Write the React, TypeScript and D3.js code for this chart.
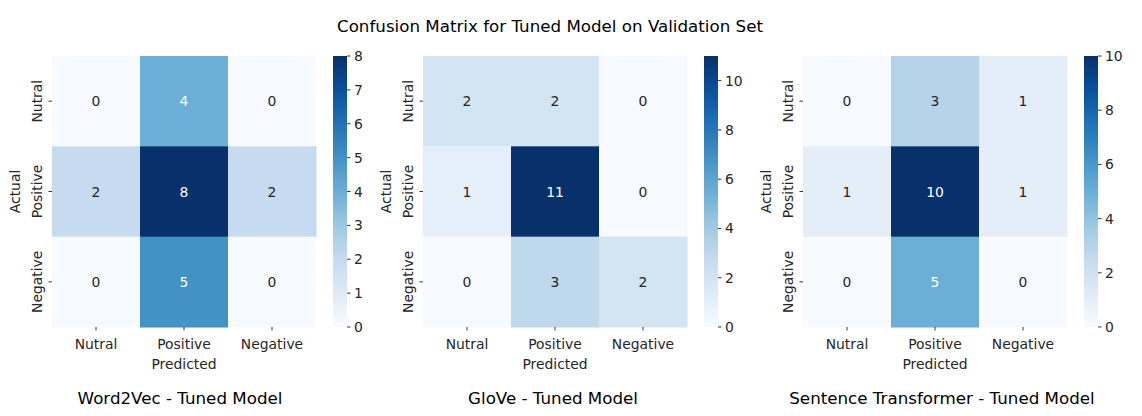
import * as d3 from "d3";

const CLASSES = ["Nutral", "Positive", "Negative"];

const WORD2VEC = [
  [0, 4, 0],
  [2, 8, 2],
  [0, 5, 0],
];
const GLOVE = [
  [2, 2, 0],
  [1, 11, 0],
  [0, 3, 2],
];
const SENTENCE = [
  [0, 3, 1],
  [1, 10, 1],
  [0, 5, 0],
];

const PANEL_TITLES = ["Word2Vec - Tuned Model", "GloVe - Tuned Model", "Sentence Transformer - Tuned Model"];
const CB_TICKS = [
  [0, 1, 2, 3, 4, 5, 6, 7, 8],
  [0, 2, 4, 6, 8, 10],
  [0, 2, 4, 6, 8, 10],
];

// matplotlib "Blues" (linear segments between the 9 brewer colours)
const BLUES = ["#f7fbff", "#deebf7", "#c6dbef", "#9ecae1", "#6baed6", "#4292c6", "#2171b5", "#08519c", "#08306b"];

const W = 1142;
const H = 416;
const FONT = "DejaVu Sans, sans-serif";
const TICK_FS = 13.9;
const TITLE_FS = 16.7;

const panelLeft = [52, 423, 803];
const titleCenter = [180, 553, 942];
const hmW = 264;
const top = 56;
const bottom = 327;
const cbGap = 17;
const cbW = 14;

function luminance(c: string) {
  const rgb = d3.rgb(c);
  const f = (v: number) => {
    v = v / 255;
    return v <= 0.03928 ? v / 12.92 : Math.pow((v + 0.055) / 1.055, 2.4);
  };
  return 0.2126 * f(rgb.r) + 0.7152 * f(rgb.g) + 0.0722 * f(rgb.b);
}

function Panel({ idx, matrix }: { idx: number; matrix: number[][] }) {
  const x0 = panelLeft[idx];
  const flat = matrix.flat();
  const vmin = d3.min(flat) as number;
  const vmax = d3.max(flat) as number;

  const x = d3.scaleBand().domain(CLASSES).range([x0, x0 + hmW]);
  const y = d3.scaleBand().domain(CLASSES).range([top, bottom]);
  const color = d3
    .scaleLinear<string>()
    .domain(BLUES.map((_, i) => vmin + ((vmax - vmin) * i) / (BLUES.length - 1)))
    .range(BLUES)
    .interpolate(d3.interpolateRgb);

  const cbX = x0 + hmW + cbGap;
  const cbY = d3.scaleLinear().domain([vmin, vmax]).range([bottom, top]);
  const gradId = `cb-grad-${idx}`;
  const stops = d3.range(0, 1.0001, 0.05);

  return (
    <g>
      {matrix.map((row, r) =>
        row.map((v, c) => {
          const fill = color(v);
          const txt = luminance(fill) > 0.408 ? "#262626" : "#ffffff";
          return (
            <g key={`${r}-${c}`}>
              <rect
                x={x(CLASSES[c])}
                y={y(CLASSES[r])}
                width={x.bandwidth() + 0.5}
                height={y.bandwidth() + 0.5}
                fill={fill}
              />
              <text
                x={(x(CLASSES[c]) as number) + x.bandwidth() / 2}
                y={(y(CLASSES[r]) as number) + y.bandwidth() / 2}
                textAnchor="middle"
                dominantBaseline="central"
                fontSize={TICK_FS}
                fill={txt}
              >
                {v}
              </text>
            </g>
          );
        })
      )}

      {/* x axis */}
      {CLASSES.map((c) => {
        const cx = (x(c) as number) + x.bandwidth() / 2;
        return (
          <g key={`xt-${c}`}>
            <line x1={cx} x2={cx} y1={bottom} y2={bottom + 3.5} stroke="#000" strokeWidth={0.8} />
            <text x={cx} y={bottom + 17} textAnchor="middle" dominantBaseline="central" fontSize={TICK_FS} fill="#262626">
              {c}
            </text>
          </g>
        );
      })}
      <text x={x0 + hmW / 2} y={364} textAnchor="middle" dominantBaseline="central" fontSize={TICK_FS} fill="#262626">
        Predicted
      </text>

      {/* y axis */}
      {CLASSES.map((c) => {
        const cy = (y(c) as number) + y.bandwidth() / 2;
        return (
          <g key={`yt-${c}`}>
            <line x1={x0 - 3.5} x2={x0} y1={cy} y2={cy} stroke="#000" strokeWidth={0.8} />
            <text
              transform={`translate(${x0 - 15},${cy}) rotate(-90)`}
              textAnchor="middle"
              dominantBaseline="central"
              fontSize={TICK_FS}
              fill="#262626"
            >
              {c}
            </text>
          </g>
        );
      })}
      <text
        transform={`translate(${x0 - 37},${(top + bottom) / 2}) rotate(-90)`}
        textAnchor="middle"
        dominantBaseline="central"
        fontSize={TICK_FS}
        fill="#262626"
      >
        Actual
      </text>

      {/* colorbar */}
      <defs>
        <linearGradient id={gradId} x1="0" y1="1" x2="0" y2="0">
          {stops.map((t) => (
            <stop key={t} offset={t} stopColor={color(vmin + t * (vmax - vmin))} />
          ))}
        </linearGradient>
      </defs>
      <rect x={cbX} y={top} width={cbW} height={bottom - top} fill={`url(#${gradId})`} />
      {CB_TICKS[idx].map((t) => (
        <g key={`cb-${t}`}>
          <line x1={cbX + cbW} x2={cbX + cbW + 3.5} y1={cbY(t)} y2={cbY(t)} stroke="#000" strokeWidth={0.8} />
          <text x={cbX + cbW + 7} y={cbY(t)} dominantBaseline="central" fontSize={TICK_FS} fill="#262626">
            {t}
          </text>
        </g>
      ))}

      <text x={titleCenter[idx]} y={398} textAnchor="middle" dominantBaseline="central" fontSize={TITLE_FS} fill="#000">
        {PANEL_TITLES[idx]}
      </text>
    </g>
  );
}

export default function App() {
  return (
    <div style={{ position: "absolute", left: 0, top: 0 }}>
      <svg width={W} height={H} style={{ display: "block", background: "#fff", fontFamily: FONT }}>
        <text x={550} y={26} textAnchor="middle" dominantBaseline="central" fontSize={TITLE_FS} fill="#000">
          Confusion Matrix for Tuned Model on Validation Set
        </text>
        {[WORD2VEC, GLOVE, SENTENCE].map((m, i) => (
          <Panel key={i} idx={i} matrix={m} />
        ))}
      </svg>
    </div>
  );
}
